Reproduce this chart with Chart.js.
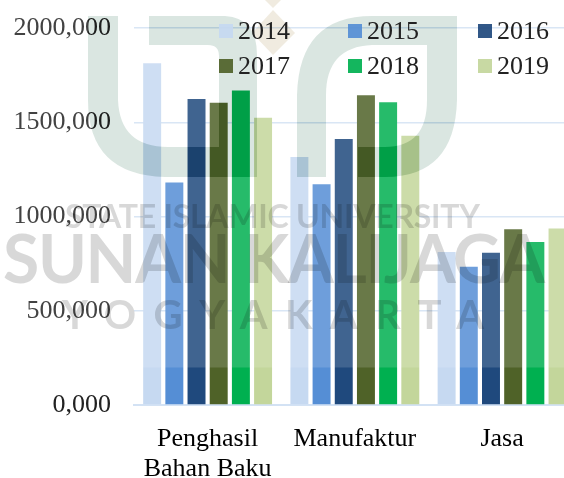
<!DOCTYPE html>
<html><head><meta charset="utf-8">
<script src="https://cdn.jsdelivr.net/npm/chart.js@4"></script>
<style>html,body{margin:0;padding:0;background:#fff;overflow:hidden;width:564px;height:478px}canvas{display:block}</style>
</head><body><canvas id="c" width="600" height="478"></canvas>
<script>
const categories = [["Penghasil","Bahan Baku"],"Manufaktur","Jasa"];
const years = ["2014","2015","2016","2017","2018","2019"];
const colors = ["#c6d9f1","#558ed5","#1f497d","#4f6228","#00b050","#c3d69b"];
const v2014 = [1813,1316,812];
const v2015 = [1181,1171,734];
const v2016 = [1623,1411,808];
const v2017 = [1604,1643,932];
const v2018 = [1669,1606,865];
const v2019 = [1524,1429,937];
const series = [v2014,v2015,v2016,v2017,v2018,v2019];
const serif = '"Liberation Serif"';

function logoPath(){
  const p=new Path2D();
  p.moveTo(88,16);p.lineTo(118,16);p.lineTo(118,100);p.quadraticCurveTo(120,147,168,147);
  p.lineTo(219,147);p.lineTo(219,56);p.quadraticCurveTo(219,45,208,45);p.lineTo(149,45);p.lineTo(149,16);p.lineTo(225,16);
  p.quadraticCurveTo(257,18,257,55);p.lineTo(257,177);
  p.lineTo(165,177);p.quadraticCurveTo(88,175,88,100);p.closePath();
  p.moveTo(297,177);p.lineTo(297,95);p.quadraticCurveTo(299,16,372,16);p.lineTo(457,16);p.lineTo(457,100);
  p.quadraticCurveTo(455,177,385,177);p.lineTo(358,177);p.lineTo(358,147);p.lineTo(385,147);
  p.quadraticCurveTo(427,147,427,100);p.lineTo(427,45);p.lineTo(372,45);p.quadraticCurveTo(326,47,326,95);p.lineTo(326,177);p.closePath();
  return p;
}
function fitText(ctx,text,x0,x1,base,font){
  ctx.font=font;ctx.letterSpacing='0px';
  const w=ctx.measureText(text).width;
  ctx.letterSpacing=((x1-x0-w)/(text.length-1))+'px';
  ctx.fillText(text,x0,base);
  ctx.letterSpacing='0px';
}
const overlay = {
  id:'overlay',
  afterDraw(chart){
    const ctx = chart.ctx; ctx.save();
    const logo=logoPath();
    const haze=new Path2D();haze.rect(0,0,600,367.5);haze.addPath(logo);
    ctx.fillStyle='rgba(255,255,255,0.15)';ctx.fill(haze,'evenodd');
    ctx.globalCompositeOperation='multiply';
    ctx.fillStyle='#dae6e1';ctx.fill(logo);
    ctx.fillStyle='#f0ebe0';
    ctx.beginPath();ctx.moveTo(273,10);ctx.lineTo(295,33);ctx.lineTo(273,55);ctx.lineTo(252,33);ctx.closePath();ctx.fill();
    ctx.beginPath();ctx.moveTo(273,8);ctx.lineTo(259,-6);ctx.lineTo(287,-6);ctx.closePath();ctx.fill();
    ctx.fillStyle='#d8d8d8';ctx.textBaseline='alphabetic';ctx.textAlign='left';
    fitText(ctx,'STATE ISLAMIC UNIVERSITY',65,480,228,'bold 32px Lato');
    fitText(ctx,'SUNAN KALIJAGA',3,545,283,'bold 66px Lato');
    fitText(ctx,'YOGYAKARTA',62,484,329,'bold 40px Lato');
    ctx.globalCompositeOperation='source-over';
    ctx.font='26px '+serif; ctx.textBaseline='middle'; ctx.textAlign='left';
    const xs=[219,348,478], ys=[31,66];
    years.forEach((y,i)=>{
      const x=xs[i%3], yy=ys[Math.floor(i/3)];
      ctx.globalAlpha=0.92;ctx.fillStyle=colors[i]; ctx.fillRect(x,yy-7,14,14);ctx.globalAlpha=1;
      ctx.fillStyle='#222'; ctx.fillText(y,x+19,yy+1);
    });
    ctx.restore();
  }
};
new Chart(document.getElementById('c'),{
  type:'bar',
  data:{labels:categories,datasets:years.map((y,i)=>({label:y,data:series[i],backgroundColor:colors[i],categoryPercentage:0.904,barPercentage:0.81}))},
  plugins:[overlay],
  options:{
    responsive:false,animation:false,
    layout:{padding:{top:28,left:0,right:24.3,bottom:0}},
    plugins:{legend:{display:false},tooltip:{enabled:false}},
    scales:{
      x:{grid:{display:false},border:{color:'#d3e2f4',width:2},
         ticks:{color:'#000',font:{family:serif,size:26,lineHeight:1.17},maxRotation:0,autoSkip:false,padding:11},
         afterFit(s){s.height=73;s.paddingLeft=0;s.paddingRight=0}},
      y:{min:0,max:2000,grid:{color:'#d3e2f4',lineWidth:1.5,drawTicks:false},border:{display:false},
         ticks:{stepSize:500,color:'#222',font:{family:serif,size:26},padding:23,callback:v=>String(v)+',000'},
         afterFit(s){s.width=134;s.paddingTop=0;s.paddingBottom=0}}
    }
  }
});
</script></body></html>
